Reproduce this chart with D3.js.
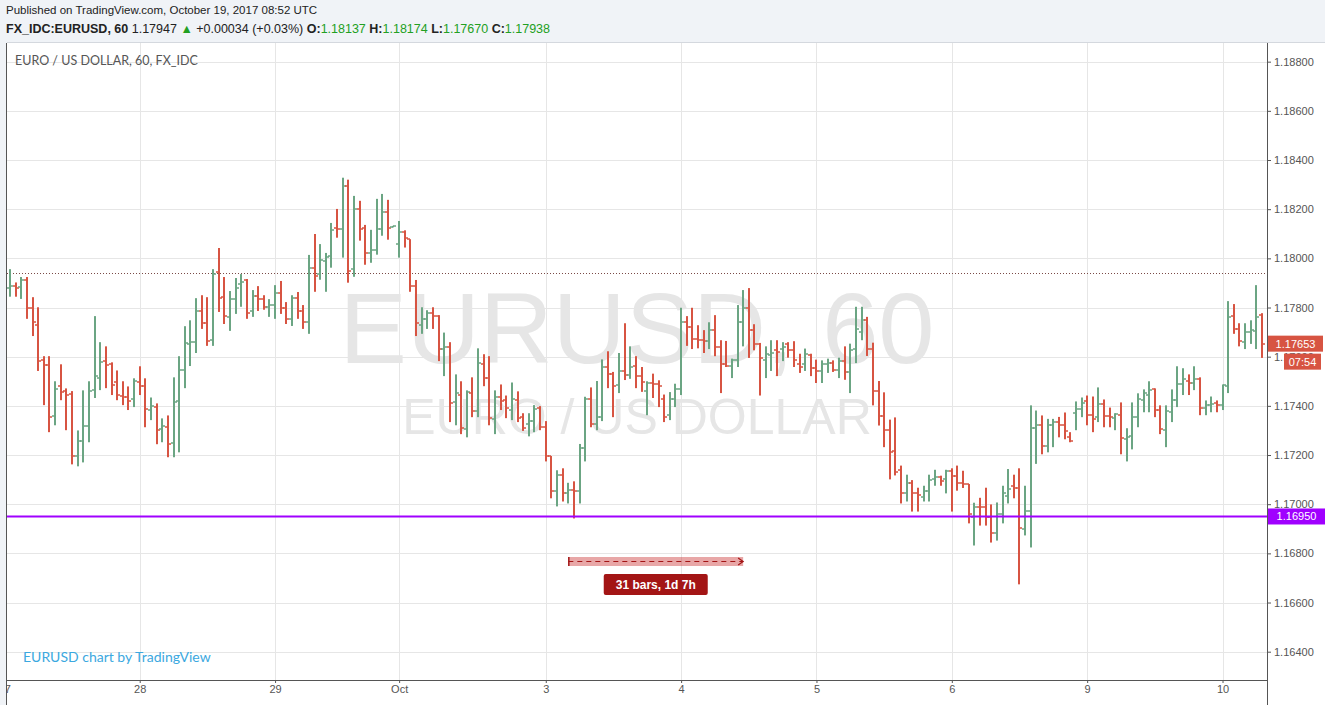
<!DOCTYPE html>
<html><head><meta charset="utf-8">
<script src="https://cdn.jsdelivr.net/npm/d3@7"></script>
<style>
html,body{margin:0;padding:0;background:#f0f3f7;}
svg{display:block;}
</style></head><body>
<svg id="c" width="1325" height="705"></svg>
<script>
// ---- DATA (EURUSD, 60 min bars) ----
const opens = [1.17878,1.17888,1.17884,1.17912,1.17796,1.17728,1.17585,1.17565,1.17357,1.17480,1.17460,1.17449,1.17198,1.17256,1.17317,1.17463,1.17514,1.17582,1.17572,1.17495,1.17440,1.17436,1.17426,1.17495,1.17480,1.17383,1.17396,1.17305,1.17313,1.17248,1.17421,1.17544,1.17652,1.17659,1.17785,1.17738,1.17668,1.17946,1.17841,1.17762,1.17835,1.17895,1.17910,1.17786,1.17848,1.17833,1.17803,1.17811,1.17860,1.17796,1.17754,1.17840,1.17786,1.17742,1.17962,1.17936,1.17990,1.18010,1.18125,1.18120,1.18295,1.17958,1.18201,1.18125,1.18023,1.18035,1.18121,1.18189,1.18128,1.18058,1.18109,1.18078,1.17888,1.17729,1.17754,1.17778,1.17766,1.17630,1.17640,1.17415,1.17446,1.17306,1.17451,1.17378,1.17569,1.17513,1.17347,1.17436,1.17422,1.17385,1.17422,1.17354,1.17327,1.17338,1.17391,1.17313,1.17195,1.17055,1.17120,1.17044,1.17059,1.17055,1.17228,1.17427,1.17325,1.17353,1.17559,1.17531,1.17483,1.17543,1.17525,1.17561,1.17521,1.17460,1.17494,1.17489,1.17427,1.17363,1.17427,1.17470,1.17742,1.17721,1.17672,1.17667,1.17663,1.17708,1.17638,1.17572,1.17561,1.17588,1.17742,1.17800,1.17710,1.17653,1.17588,1.17608,1.17626,1.17633,1.17650,1.17626,1.17572,1.17572,1.17606,1.17555,1.17540,1.17572,1.17574,1.17544,1.17582,1.17538,1.17631,1.17701,1.17748,1.17631,1.17460,1.17357,1.17301,1.17215,1.17139,1.17047,1.17087,1.17044,1.17030,1.17052,1.17102,1.17109,1.17101,1.17134,1.17113,1.17085,1.17081,1.16946,1.16990,1.16990,1.16949,1.16882,1.16960,1.17034,1.17074,1.17064,1.16898,1.16973,1.17309,1.17324,1.17236,1.17321,1.17334,1.17324,1.17275,1.17370,1.17387,1.17419,1.17363,1.17354,1.17407,1.17358,1.17350,1.17363,1.17264,1.17276,1.17354,1.17423,1.17446,1.17467,1.17383,1.17301,1.17374,1.17425,1.17489,1.17501,1.17493,1.17508,1.17391,1.17403,1.17411,1.17403,1.17479,1.17767,1.17713,1.17659,1.17699,1.17705,1.17770];
const highs = [1.17956,1.17902,1.17924,1.17924,1.17842,1.17801,1.17602,1.17602,1.17500,1.17569,1.17471,1.17460,1.17300,1.17463,1.17500,1.17765,1.17659,1.17642,1.17577,1.17544,1.17500,1.17479,1.17512,1.17561,1.17512,1.17434,1.17410,1.17349,1.17361,1.17516,1.17602,1.17724,1.17748,1.17838,1.17850,1.17842,1.17956,1.18042,1.17924,1.17867,1.17920,1.17936,1.17916,1.17871,1.17887,1.17850,1.17834,1.17891,1.17908,1.17822,1.17850,1.17863,1.17810,1.18014,1.18099,1.18058,1.18022,1.18144,1.18201,1.18328,1.18320,1.18254,1.18234,1.18136,1.18116,1.18242,1.18262,1.18238,1.18132,1.18152,1.18114,1.18078,1.17912,1.17801,1.17789,1.17801,1.17769,1.17698,1.17659,1.17528,1.17500,1.17463,1.17516,1.17634,1.17610,1.17602,1.17463,1.17487,1.17442,1.17495,1.17459,1.17370,1.17370,1.17403,1.17399,1.17338,1.17196,1.17138,1.17146,1.17087,1.17093,1.17245,1.17437,1.17475,1.17501,1.17589,1.17622,1.17538,1.17615,1.17736,1.17642,1.17602,1.17558,1.17500,1.17531,1.17504,1.17446,1.17456,1.17490,1.17799,1.17765,1.17799,1.17728,1.17708,1.17740,1.17769,1.17667,1.17664,1.17592,1.17810,1.17871,1.17879,1.17732,1.17656,1.17642,1.17667,1.17667,1.17659,1.17659,1.17663,1.17612,1.17633,1.17612,1.17588,1.17585,1.17592,1.17585,1.17596,1.17642,1.17653,1.17803,1.17803,1.17762,1.17657,1.17501,1.17455,1.17344,1.17353,1.17157,1.17120,1.17098,1.17067,1.17075,1.17120,1.17140,1.17116,1.17140,1.17146,1.17157,1.17136,1.17082,1.17006,1.17026,1.17067,1.16999,1.17007,1.17075,1.17143,1.17120,1.17146,1.17075,1.17402,1.17381,1.17361,1.17347,1.17347,1.17355,1.17373,1.17293,1.17418,1.17434,1.17442,1.17438,1.17475,1.17426,1.17393,1.17370,1.17414,1.17309,1.17414,1.17451,1.17467,1.17500,1.17471,1.17402,1.17402,1.17467,1.17561,1.17553,1.17528,1.17561,1.17516,1.17422,1.17438,1.17422,1.17487,1.17826,1.17814,1.17736,1.17736,1.17748,1.17891,1.17777];
const lows = [1.17844,1.17844,1.17835,1.17754,1.17684,1.17542,1.17403,1.17293,1.17321,1.17423,1.17301,1.17162,1.17154,1.17170,1.17252,1.17432,1.17464,1.17472,1.17444,1.17423,1.17403,1.17383,1.17395,1.17444,1.17313,1.17342,1.17244,1.17252,1.17191,1.17191,1.17211,1.17472,1.17562,1.17615,1.17713,1.17644,1.17644,1.17782,1.17733,1.17705,1.17774,1.17803,1.17754,1.17762,1.17786,1.17791,1.17762,1.17754,1.17774,1.17733,1.17725,1.17754,1.17713,1.17693,1.17864,1.17913,1.17864,1.17962,1.18084,1.18003,1.17901,1.17925,1.18072,1.17974,1.17982,1.18015,1.18092,1.18076,1.18126,1.18003,1.18044,1.17864,1.17684,1.17693,1.17713,1.17713,1.17582,1.17521,1.17334,1.17321,1.17285,1.17272,1.17354,1.17354,1.17480,1.17321,1.17285,1.17383,1.17350,1.17342,1.17334,1.17298,1.17276,1.17293,1.17301,1.17174,1.17024,1.16991,1.17011,1.17003,1.16942,1.17003,1.17174,1.17313,1.17301,1.17338,1.17472,1.17354,1.17452,1.17505,1.17510,1.17472,1.17457,1.17362,1.17432,1.17395,1.17334,1.17342,1.17395,1.17444,1.17644,1.17631,1.17634,1.17615,1.17631,1.17602,1.17452,1.17558,1.17513,1.17558,1.17642,1.17595,1.17626,1.17442,1.17513,1.17542,1.17521,1.17582,1.17596,1.17558,1.17534,1.17542,1.17521,1.17493,1.17493,1.17534,1.17538,1.17513,1.17506,1.17452,1.17574,1.17667,1.17603,1.17402,1.17320,1.17232,1.17101,1.17117,1.17003,1.17011,1.16970,1.16970,1.17011,1.17011,1.17075,1.17075,1.17044,1.16970,1.17055,1.17066,1.16922,1.16832,1.16913,1.16913,1.16844,1.16852,1.16922,1.17003,1.17024,1.16674,1.16873,1.16824,1.17164,1.17203,1.17211,1.17232,1.17272,1.17264,1.17252,1.17301,1.17354,1.17321,1.17293,1.17334,1.17313,1.17313,1.17301,1.17203,1.17174,1.17223,1.17313,1.17374,1.17374,1.17354,1.17285,1.17232,1.17334,1.17395,1.17444,1.17444,1.17464,1.17362,1.17362,1.17374,1.17374,1.17383,1.17452,1.17693,1.17642,1.17631,1.17652,1.17631,1.17595];
const closes = [1.17888,1.17878,1.17912,1.17796,1.17742,1.17582,1.17565,1.17354,1.17468,1.17456,1.17444,1.17194,1.17256,1.17317,1.17460,1.17521,1.17578,1.17566,1.17483,1.17444,1.17436,1.17419,1.17500,1.17480,1.17387,1.17399,1.17301,1.17317,1.17244,1.17417,1.17544,1.17656,1.17659,1.17785,1.17738,1.17664,1.17936,1.17837,1.17765,1.17835,1.17879,1.17903,1.17778,1.17848,1.17833,1.17803,1.17811,1.17860,1.17796,1.17754,1.17838,1.17786,1.17742,1.17962,1.17928,1.17995,1.18007,1.18116,1.18121,1.18295,1.17950,1.18201,1.18121,1.18023,1.18035,1.18121,1.18189,1.18125,1.18131,1.18109,1.18082,1.17888,1.17738,1.17754,1.17778,1.17766,1.17630,1.17640,1.17411,1.17451,1.17309,1.17456,1.17381,1.17574,1.17513,1.17350,1.17436,1.17419,1.17392,1.17427,1.17350,1.17309,1.17338,1.17387,1.17313,1.17195,1.17055,1.17120,1.17044,1.17059,1.17055,1.17228,1.17427,1.17325,1.17353,1.17559,1.17531,1.17480,1.17543,1.17525,1.17558,1.17521,1.17497,1.17494,1.17489,1.17479,1.17354,1.17427,1.17470,1.17742,1.17721,1.17672,1.17667,1.17663,1.17708,1.17638,1.17572,1.17561,1.17588,1.17742,1.17800,1.17710,1.17653,1.17595,1.17612,1.17615,1.17619,1.17640,1.17626,1.17588,1.17558,1.17610,1.17555,1.17542,1.17572,1.17576,1.17547,1.17582,1.17538,1.17626,1.17712,1.17748,1.17631,1.17460,1.17357,1.17301,1.17211,1.17130,1.17047,1.17087,1.17044,1.17038,1.17052,1.17097,1.17109,1.17096,1.17136,1.17113,1.17085,1.17081,1.16962,1.16990,1.16987,1.16949,1.16882,1.16962,1.17044,1.17062,1.17064,1.16902,1.16973,1.17309,1.17324,1.17236,1.17321,1.17334,1.17324,1.17297,1.17256,1.17387,1.17411,1.17363,1.17346,1.17407,1.17358,1.17353,1.17366,1.17268,1.17272,1.17354,1.17427,1.17452,1.17464,1.17383,1.17305,1.17378,1.17422,1.17489,1.17508,1.17493,1.17508,1.17391,1.17403,1.17407,1.17403,1.17483,1.17762,1.17713,1.17664,1.17699,1.17708,1.17762,1.17653];
const priceTicks = [1.164,1.166,1.168,1.170,1.172,1.174,1.176,1.178,1.180,1.182,1.184,1.186,1.188];
const dayLabels = ["27","28","29","Oct","3","4","5","6","9","10"];
const dayBarIndex = [-1,23,47,69,95,119,143,167,191,215];
const lastPrice = 1.17653;
const levelPrice = 1.16950;
const refLinePrice = 1.17939;
const measureFrom = 99, measureTo = 130;

// ---- LAYOUT ----
const pane = {l:7, r:1267, t:43, b:680};
const UP = "#6ba583", DOWN = "#d75442";
const svg = d3.select("#c");
const x = d3.scaleLinear().domain([0, opens.length-1]).range([10, 1262]);
const y = d3.scaleLinear().domain([1.164, 1.188]).range([651.7, 61.67]);

// pane background
svg.append("rect").attr("x",pane.l).attr("y",pane.t).attr("width",1325-pane.l).attr("height",705-pane.t).attr("fill","#ffffff");
svg.append("line").attr("x1",pane.l).attr("x2",1325).attr("y1",pane.t-0.5).attr("y2",pane.t-0.5).attr("stroke","#d4d8de");

svg.append("defs").append("clipPath").attr("id","clip")
  .append("rect").attr("x",pane.l).attr("y",pane.t).attr("width",pane.r-pane.l).attr("height",pane.b-pane.t);
svg.append("defs").append("clipPath").attr("id","clipT")
  .append("rect").attr("x",pane.l).attr("y",pane.b).attr("width",pane.r-pane.l).attr("height",705-pane.b);

const g = svg.append("g").attr("clip-path","url(#clip)");

// grid
g.selectAll("line.hg").data(priceTicks).join("line")
  .attr("x1",pane.l).attr("x2",pane.r)
  .attr("y1",d=>Math.round(y(d))+0.5).attr("y2",d=>Math.round(y(d))+0.5)
  .attr("stroke","#e6e6e6");
g.selectAll("line.vg").data(dayBarIndex).join("line")
  .attr("x1",d=>Math.round(x(d))+0.5).attr("x2",d=>Math.round(x(d))+0.5)
  .attr("y1",pane.t).attr("y2",pane.b)
  .attr("stroke","#e6e6e6");

// watermark
g.append("text").attr("x",(pane.l+pane.r)/2).attr("y",363).attr("text-anchor","middle")
  .attr("font-family","'Liberation Sans', Arial, sans-serif").attr("font-size",101)
  .attr("fill","#e6e6e6").text("EURUSD, 60");
g.append("text").attr("x",(pane.l+pane.r)/2).attr("y",434).attr("text-anchor","middle")
  .attr("font-family","'Liberation Sans', Arial, sans-serif").attr("font-size",50)
  .attr("fill","#e6e6e6").text("EURO / US DOLLAR");

// reference dotted line
g.append("line").attr("x1",pane.l).attr("x2",pane.r)
  .attr("y1",Math.round(y(refLinePrice))+0.5).attr("y2",Math.round(y(refLinePrice))+0.5)
  .attr("stroke","#7a4a46").attr("stroke-dasharray","1,2");

// OHLC bars
const bars = g.append("g");
opens.forEach((o,i)=>{
  const c = closes[i], col = c >= o ? UP : DOWN;
  const cx = Math.round(x(i));
  bars.append("rect").attr("x",cx-1).attr("y",y(highs[i])).attr("width",2)
     .attr("height",Math.max(1,y(lows[i])-y(highs[i]))).attr("fill",col);
  bars.append("rect").attr("x",cx-3).attr("y",Math.round(y(o))-0.75).attr("width",3).attr("height",1.5).attr("fill",col);
  bars.append("rect").attr("x",cx).attr("y",Math.round(y(c))-0.75).attr("width",3).attr("height",1.5).attr("fill",col);
});

// horizontal level
g.append("line").attr("x1",pane.l).attr("x2",pane.r)
  .attr("y1",y(levelPrice)).attr("y2",y(levelPrice))
  .attr("stroke","#a000ff").attr("stroke-width",2);

// measure tool
const mx1 = x(measureFrom), mx2 = x(measureTo), my = 561.5;
g.append("rect").attr("x",mx1).attr("y",my-4.5).attr("width",mx2-mx1).attr("height",9)
  .attr("fill","rgba(205,60,60,0.45)");
g.append("line").attr("x1",mx1+0.5).attr("x2",mx1+0.5).attr("y1",my-4.5).attr("y2",my+4.5).attr("stroke","#a31515").attr("stroke-width",1.5);
g.append("line").attr("x1",mx1).attr("x2",mx2).attr("y1",my).attr("y2",my)
  .attr("stroke","#a31515").attr("stroke-dasharray","5,4");
g.append("path").attr("d",`M${mx2-5},${my-3.5}L${mx2},${my}L${mx2-5},${my+3.5}`)
  .attr("fill","none").attr("stroke","#a31515").attr("stroke-width",1.2);
const lbx = (mx1+mx2)/2;
g.append("rect").attr("x",lbx-52).attr("y",574).attr("width",104).attr("height",21).attr("rx",2)
  .attr("fill","#a31515");
g.append("text").attr("x",lbx).attr("y",589).attr("text-anchor","middle")
  .attr("font-family","'Liberation Sans', Arial, sans-serif").attr("font-size",12).attr("font-weight","bold")
  .attr("fill","#ffffff").text(`${measureTo-measureFrom} bars, 1d 7h`);

// pane legend texts
svg.append("text").attr("x",15).attr("y",65).attr("font-family","Lato, 'Liberation Sans', sans-serif")
  .attr("font-size",12.5).attr("fill","#555").text("EURO / US DOLLAR, 60, FX_IDC");
svg.append("text").attr("x",23).attr("y",662).attr("font-family","Lato, 'Liberation Sans', sans-serif")
  .attr("font-size",14).attr("fill","#3ba8e0").text("EURUSD chart by TradingView");

// price axis
const ya = svg.append("g").attr("transform",`translate(${pane.r},0)`)
  .call(d3.axisRight(y).tickValues(priceTicks).tickFormat(d3.format(".5f")).tickSize(4).tickPadding(3));
ya.select(".domain").remove();
ya.selectAll(".tick line").attr("stroke","#555");
ya.selectAll(".tick text").attr("font-family","'Liberation Sans', Arial, sans-serif").attr("font-size",11).attr("fill","#555");
svg.append("line").attr("x1",pane.r+0.5).attr("x2",pane.r+0.5).attr("y1",pane.t).attr("y2",705).attr("stroke","#555");

// time axis
const xa = svg.append("g").attr("clip-path","url(#clipT)").append("g").attr("transform",`translate(0,${pane.b})`)
  .call(d3.axisBottom(x).tickValues(dayBarIndex).tickFormat((d,i)=>dayLabels[i]).tickSize(3).tickPadding(2));
xa.select(".domain").remove();
xa.selectAll(".tick line").attr("stroke","#555");
xa.selectAll(".tick text").attr("font-family","'Liberation Sans', Arial, sans-serif").attr("font-size",11).attr("fill","#555");
svg.append("line").attr("x1",pane.l).attr("x2",pane.r).attr("y1",pane.b+0.5).attr("y2",pane.b+0.5).attr("stroke","#555");
svg.append("line").attr("x1",pane.l-0.5).attr("x2",pane.l-0.5).attr("y1",pane.t).attr("y2",705).attr("stroke","#555");

// price labels
function priceLabel(bg, txt, yy, x0, w){
  svg.append("rect").attr("x",x0).attr("y",yy-8).attr("width",w).attr("height",16).attr("fill",bg);
  svg.append("text").attr("x",x0+w/2).attr("y",yy+4).attr("text-anchor","middle")
    .attr("font-family","'Liberation Sans', Arial, sans-serif").attr("font-size",11).attr("fill","#fff").text(txt);
}
priceLabel(DOWN, d3.format(".5f")(lastPrice), y(lastPrice), 1268, 55);
priceLabel(DOWN, "07:54", y(lastPrice)+18, 1284, 37);
priceLabel("#a000ff", d3.format(".5f")(levelPrice), y(levelPrice), 1268, 57);

// header
const hdr = svg.append("g").attr("font-family","'Liberation Sans', Arial, sans-serif").attr("fill","#222");
hdr.append("text").attr("x",6).attr("y",14).attr("font-size",11.5).text("Published on TradingView.com, October 19, 2017 08:52 UTC");
const t2 = hdr.append("text").attr("x",6).attr("y",33).attr("font-size",12.5);
t2.append("tspan").attr("font-weight","bold").text("FX_IDC:EURUSD, 60");
t2.append("tspan").text(" 1.17947 ");
t2.append("tspan").attr("fill","#22a022").text("▲");
t2.append("tspan").text(" +0.00034 (+0.03%) ");
[["O:","1.18137"],["H:","1.18174"],["L:","1.17670"],["C:","1.17938"]].forEach(([k,v],i)=>{
  t2.append("tspan").attr("font-weight","bold").text((i?" ":"")+k);
  t2.append("tspan").attr("fill","#22a022").text(v);
});
</script>
</body></html>
